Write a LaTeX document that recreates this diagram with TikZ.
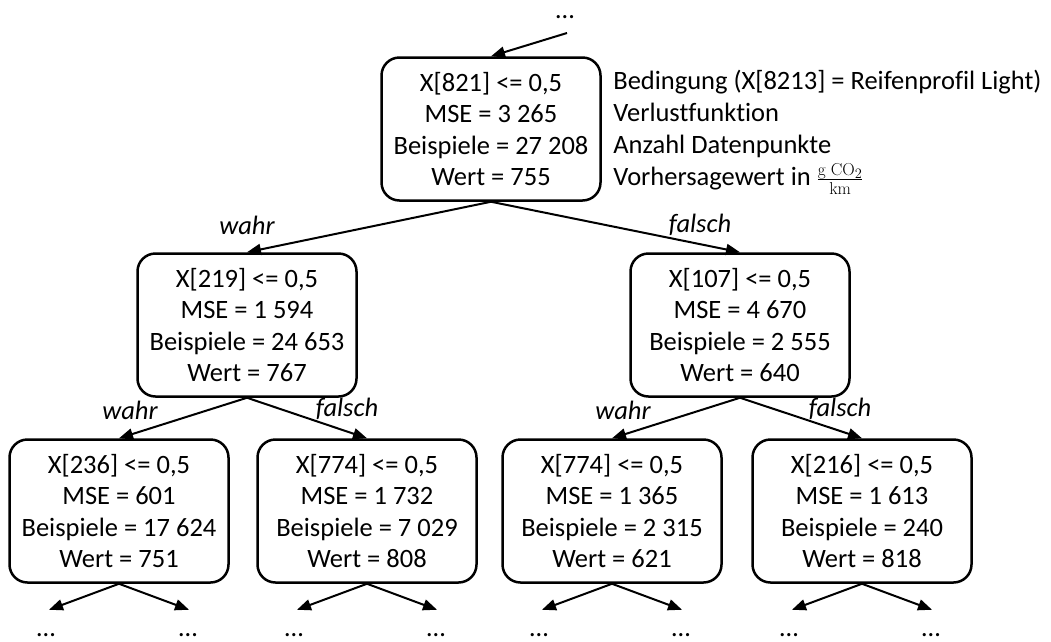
\documentclass[tikz,border=0pt]{standalone}
\usepackage[no-math]{fontspec}
\setmainfont{Carlito}[Ligatures=NoCommon]
\usetikzlibrary{positioning,arrows.meta}

\begin{document}
\begin{tikzpicture}[x=1pt, y=-1pt, on grid, line width=2pt, >={Triangle[length=14pt, width=11pt]},
    main/.style = {draw, rectangle, rounded corners=18pt, line width=2.5pt, minimum width=219pt, minimum height=143pt, align=center, font=\fontsize{26.5}{31.5}\selectfont},
    lbl/.style = {font=\fontsize{26.5}{31.5}\selectfont\itshape},
    info/.style = {anchor=north west, align=left, font=\fontsize{26.5}{32}\selectfont},
    dots/.style = {anchor=base, inner sep=0pt, font=\fontsize{26.5}{31.5}\selectfont}]
        \useasboundingbox (0,0) rectangle (1051,641);
        \node[main] (1) at (491,129) {X[821] <= 0,5\\MSE = 3 265\\Beispiele = 27 208\\Wert = 755};
        \node[main] (2) [below left=196pt and 244pt of 1] {X[219] <= 0,5\\MSE = 1 594\\Beispiele = 24 653\\Wert = 767};
        \node[main] (3) [below right=196pt and 249pt of 1] {X[107] <= 0,5\\MSE = 4 670\\Beispiele = 2 555\\Wert = 640};
        \node[main] (4) [below left=186pt and 128pt of 2] {X[236] <= 0,5\\MSE = 601\\Beispiele = 17 624\\Wert = 751};
        \node[main] (5) [below right=186pt and 120pt of 2] {X[774] <= 0,5\\MSE = 1 732\\Beispiele = 7 029\\Wert = 808};
        \node[main] (6) [below left=186pt and 128pt of 3] {X[774] <= 0,5\\MSE = 1 365\\Beispiele = 2 315\\Wert = 621};
        \node[main] (7) [below right=186pt and 122pt of 3] {X[216] <= 0,5\\MSE = 1 613\\Beispiele = 240\\Wert = 818};

        % legend next to the root
        \node[info] (info) at (609,66) {Bedingung (X[8213] = Reifenprofil Light)\\Verlustfunktion\\Anzahl Datenpunkte\\Vorhersagewert in $\frac{\mathrm{g\;CO_2}}{\mathrm{km}}$};

        % incoming edge from above
        \node[dots] (top) at (565,18) {…};
        \coordinate (in) at (567,33);
        \draw[->] (in) -- (1.north);

        \draw[->] (1.south) -- (2.north);
        \draw[->] (1.south) -- (3.north);
        \draw[->] (2.south) -- (4.north);
        \draw[->] (2.south) -- (5.north);
        \draw[->] (3.south) -- (6.north);
        \draw[->] (3.south) -- (7.north);

        \node[lbl] (w2) at ([shift={(0,-27)}]2.north) {wahr};
        \node[lbl] (f3) at ([shift={(-40,-27)}]3.north) {falsch};
        \node[lbl] (w4) at ([shift={(11,-28)}]4.north) {wahr};
        \node[lbl] (f5) at ([shift={(-20,-29)}]5.north) {falsch};
        \node[lbl] (w6) at ([shift={(11,-28)}]6.north) {wahr};
        \node[lbl] (f7) at ([shift={(-22,-29)}]7.north) {falsch};

        % subtrees below the last level
        \foreach \n in {4,5,6,7} {
            \coordinate (\n l) at ([shift={(-70,26)}]\n.south);
            \coordinate (\n r) at ([shift={(70,26)}]\n.south);
            \draw[->] (\n.south) -- (\n l);
            \draw[->] (\n.south) -- (\n r);
            \node[dots] (\n ld) at ([shift={(-3,27)}]\n l) {…};
            \node[dots] (\n rd) at ([shift={(-1,27)}]\n r) {…};
        }
    \end{tikzpicture}
\end{document}
